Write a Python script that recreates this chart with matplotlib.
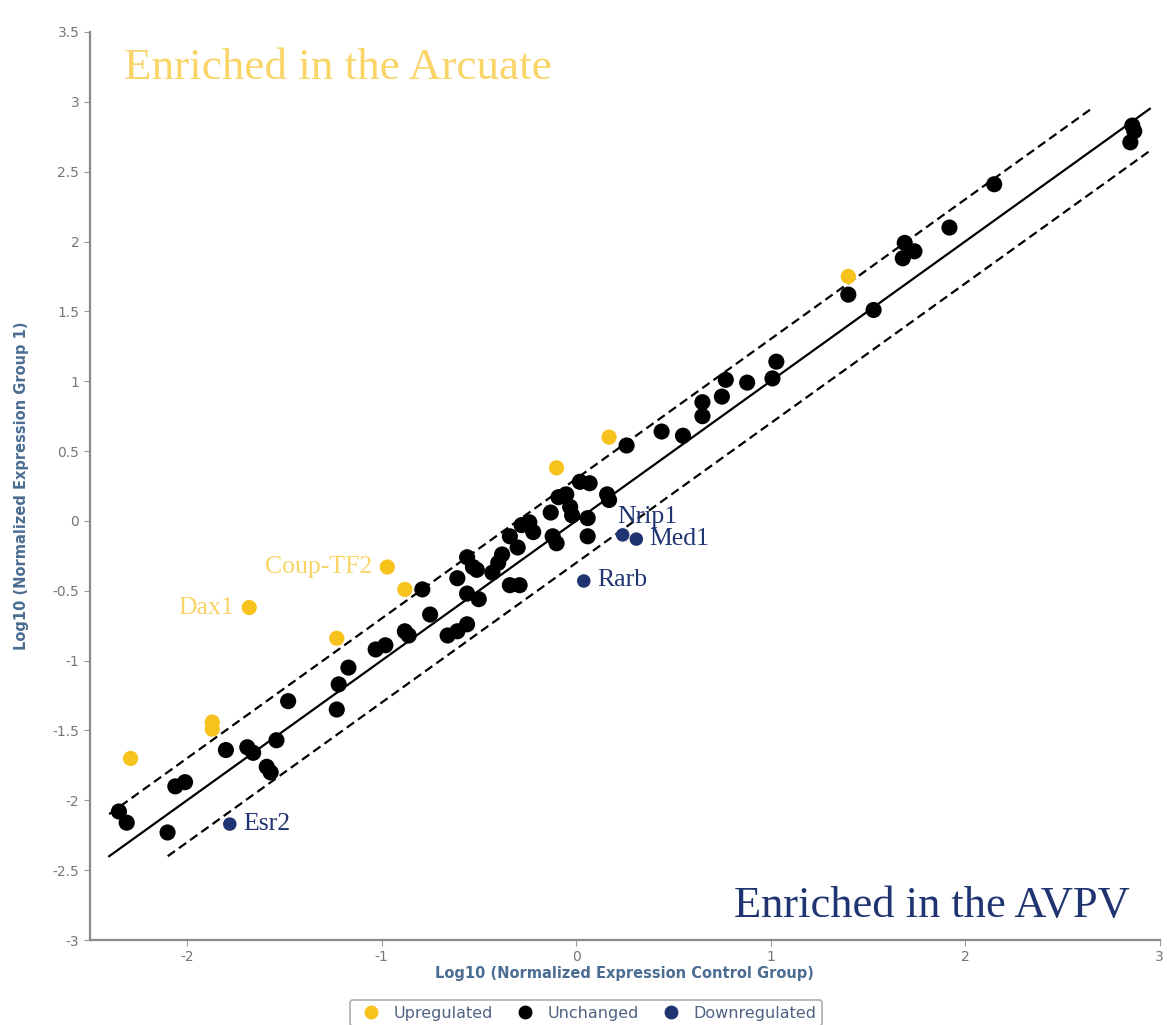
import matplotlib
matplotlib.use("Agg")
import matplotlib.pyplot as plt
from matplotlib.ticker import FuncFormatter, MultipleLocator
from matplotlib.lines import Line2D

# log10 normalized expression: control group (x) vs group 1 (y)
up_x = [-2.29, -1.87, -1.87, -1.68, -1.23, -0.97, -0.88, -0.10, 0.17, 1.40]
up_y = [-1.70, -1.44, -1.49, -0.62, -0.84, -0.33, -0.49, 0.38, 0.60, 1.75]

down_genes = ["Esr2", "Rarb", "Nrip1", "Med1"]
down_x = [-1.78, 0.04, 0.24, 0.31]
down_y = [-2.17, -0.43, -0.10, -0.13]

up_labels = {"Dax1": (-1.68, -0.62), "Coup-TF2": (-0.97, -0.33)}

unch_x = [-2.35, -2.31, -2.10, -2.06, -2.01, -1.80, -1.69, -1.66, -1.54, -1.59,
          -1.57, -1.48, -1.23, -1.22, -1.17, -1.03, -0.98, -0.88, -0.86, -0.75,
          -0.79, -0.66, -0.61, -0.56, -0.61, -0.56, -0.51, -0.56, -0.50, -0.53,
          -0.43, -0.40, -0.38, -0.34, -0.29, -0.34, -0.30, -0.28, -0.24, -0.22,
          -0.13, -0.12, -0.10, -0.09, -0.05, -0.03, -0.02, 0.02, 0.07, 0.06,
          0.06, 0.16, 0.17, 0.26, 0.44, 0.55, 0.65, 0.65, 0.75, 0.77,
          0.88, 1.01, 1.03, 1.40, 1.53, 1.69, 1.74, 1.68, 1.92, 2.15,
          2.86, 2.87, 2.85]
unch_y = [-2.08, -2.16, -2.23, -1.90, -1.87, -1.64, -1.62, -1.66, -1.57, -1.76,
          -1.80, -1.29, -1.35, -1.17, -1.05, -0.92, -0.89, -0.79, -0.82, -0.67,
          -0.49, -0.82, -0.79, -0.74, -0.41, -0.26, -0.35, -0.52, -0.56, -0.33,
          -0.37, -0.30, -0.24, -0.46, -0.46, -0.11, -0.19, -0.03, -0.01, -0.08,
          0.06, -0.11, -0.16, 0.17, 0.19, 0.10, 0.04, 0.28, 0.27, 0.02,
          -0.11, 0.19, 0.15, 0.54, 0.64, 0.61, 0.75, 0.85, 0.89, 1.01,
          0.99, 1.02, 1.14, 1.62, 1.51, 1.99, 1.93, 1.88, 2.10, 2.41,
          2.83, 2.79, 2.71]

fold_offset = 0.301  # log10(2): two-fold boundary
line_lo, line_hi = -2.4, 2.95

YELLOW = "#f7c21c"
YELLOW_TXT = "#f9d466"
NAVY = "#1f3470"
AXIS_TXT = "#4b6d92"

fig = plt.figure(figsize=(11.67, 10.25), dpi=100)
ax = fig.add_axes([0.0769, 0.0829, 0.9167, 0.8859])
ax.set_xlim(-2.5, 3.0)
ax.set_ylim(-3.0, 3.5)

# identity line and the two-fold boundaries, kept inside the data square
ax.plot([line_lo, line_hi], [line_lo, line_hi], color="black", lw=1.6, zorder=2)
ax.plot([line_lo, line_hi - fold_offset], [line_lo + fold_offset, line_hi],
        color="black", lw=1.6, ls=(0, (4, 2.2)), zorder=2)
ax.plot([line_lo + fold_offset, line_hi], [line_lo, line_hi - fold_offset],
        color="black", lw=1.6, ls=(0, (4, 2.2)), zorder=2)

ax.scatter(unch_x, unch_y, s=135, color="black", edgecolors="none", zorder=3)
ax.scatter(up_x, up_y, s=120, color=YELLOW, edgecolors="none", zorder=3)
ax.scatter(down_x, down_y, s=95, color=NAVY, edgecolors="none", zorder=3)

gene_font = dict(family="Liberation Serif", fontsize=18.5)
for name, (gx, gy) in up_labels.items():
    ax.annotate(name, (gx, gy), xytext=(-11, 0), textcoords="offset points",
                ha="right", va="center", color=YELLOW_TXT, **gene_font)

down_offsets = {"Esr2": (10, 0, "left"), "Rarb": (10, 1, "left"),
                "Nrip1": (-4, 13, "left"), "Med1": (9, 0, "left")}
for name, gx, gy in zip(down_genes, down_x, down_y):
    dx, dy, ha = down_offsets[name]
    ax.annotate(name, (gx, gy), xytext=(dx, dy), textcoords="offset points",
                ha=ha, va="center", color=NAVY, **gene_font)

ax.text(0.032, 0.96, "Enriched in the Arcuate", transform=ax.transAxes,
        family="Liberation Serif", fontsize=32.5, color=YELLOW_TXT,
        ha="left", va="center")
ax.text(0.972, 0.037, "Enriched in the AVPV", transform=ax.transAxes,
        family="Liberation Serif", fontsize=32, color=NAVY,
        ha="right", va="center")

for side in ("top", "right"):
    ax.spines[side].set_visible(False)
for side in ("left", "bottom"):
    ax.spines[side].set_color("#8a8a8a")
    ax.spines[side].set_linewidth(1.6)

ax.xaxis.set_major_locator(MultipleLocator(1))
ax.yaxis.set_major_locator(MultipleLocator(0.5))
fmt = FuncFormatter(lambda v, _: f"{v:g}".replace("\u2212", "-"))
ax.xaxis.set_major_formatter(fmt)
ax.yaxis.set_major_formatter(fmt)
ax.tick_params(colors="#9a9a9a", labelcolor="#767676", labelsize=10,
               length=4, width=0.8)

ax.set_xlabel("Log10 (Normalized Expression Control Group)", fontsize=10.5,
              fontweight="bold", color=AXIS_TXT, labelpad=1)
ax.set_ylabel("Log10 (Normalized Expression Group 1)", fontsize=10.5,
              fontweight="bold", color=AXIS_TXT, labelpad=17)

handles = [
    Line2D([], [], ls="none", marker="o", ms=9, color=YELLOW, label="Upregulated"),
    Line2D([], [], ls="none", marker="o", ms=9, color="black", label="Unchanged"),
    Line2D([], [], ls="none", marker="o", ms=9, color=NAVY, label="Downregulated"),
]
leg = fig.legend(handles=handles, loc="upper center", bbox_to_anchor=(0.502, 0.032),
                 ncol=3, frameon=True, fontsize=11.5, handletextpad=0.4,
                 columnspacing=1.0, borderpad=0.35, fancybox=True)
leg.get_frame().set_edgecolor("#9a9a9a")
leg.get_frame().set_linewidth(1.2)
for t in leg.get_texts():
    t.set_color("#4f6282")

fig.savefig("out.png", dpi=100)
